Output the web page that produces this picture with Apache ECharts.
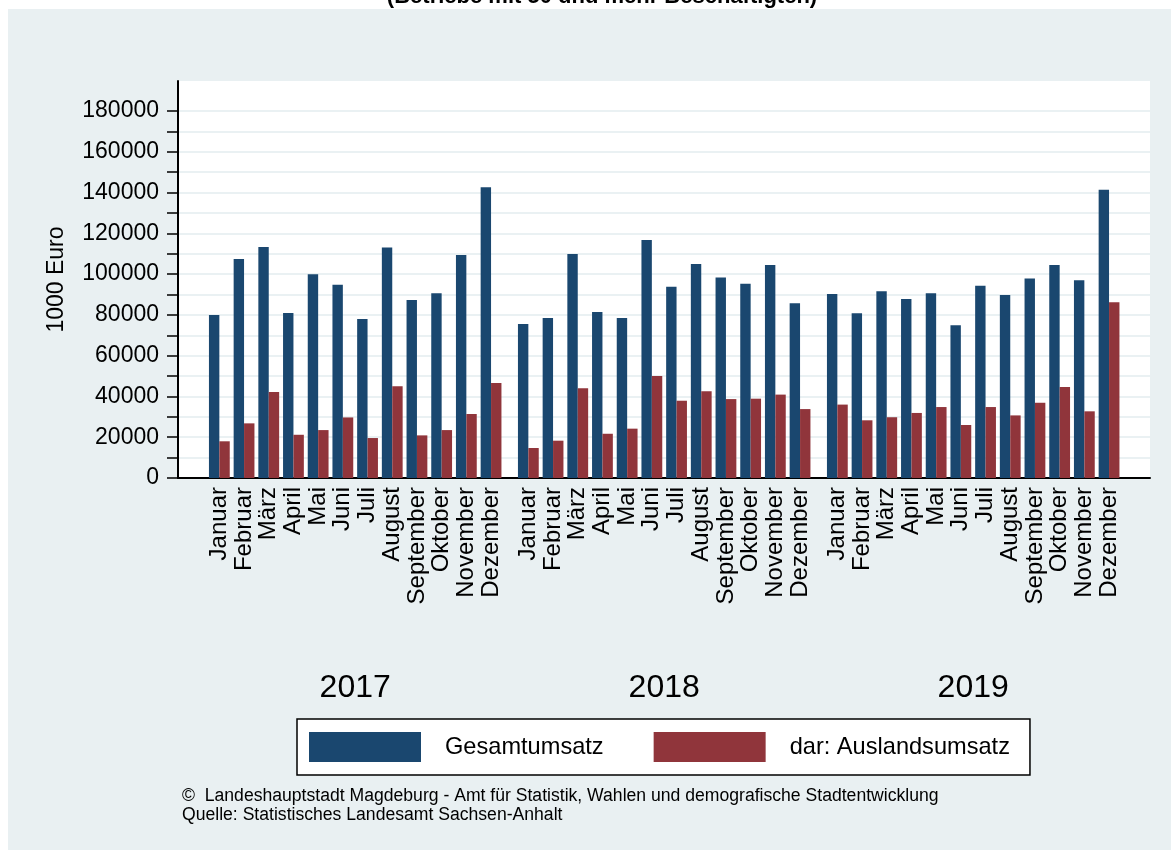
<!DOCTYPE html>
<html lang="de">
<head>
    <meta charset="UTF-8">
    <title>Umsatz Magdeburg</title>
    <script src="https://cdn.jsdelivr.net/npm/echarts@6/dist/echarts.min.js"></script>
    <style>
        body { margin: 0; background: #fff; }
    </style>
</head>
<body>
    <div id="dv" style="width:1171px;height:850px;"></div>
</body>
<script>
   var months = ['Januar', 'Februar', 'März', 'April', 'Mai', 'Juni', 'Juli', 'August', 'September', 'Oktober', 'November', 'Dezember']
   var years = ['2017', '2018', '2019']
   // Gesamtumsatz (1000 Euro), je Jahr
   var gesamt2017 = [80000, 107400, 113300, 80900, 99900, 94800, 78000, 113100, 87300, 90600, 109400, 142600]
   var gesamt2018 = [75500, 78500, 109900, 81400, 78500, 116700, 93800, 105000, 98300, 95300, 104500, 85700]
   var gesamt2019 = [90300, 80800, 91600, 87800, 90600, 74900, 94300, 89800, 97800, 104500, 97000, 141400]
   // dar: Auslandsumsatz
   var ausland2017 = [18000, 26800, 42200, 21200, 23500, 29700, 19600, 45000, 20900, 23500, 31400, 46600]
   var ausland2018 = [14700, 18300, 44000, 21700, 24200, 50000, 37900, 42500, 38700, 38900, 40900, 33800]
   var ausland2019 = [36000, 28300, 29800, 31900, 34800, 26000, 34800, 30700, 36900, 44600, 32700, 86200]
   var yLabels = [0, 20000, 40000, 60000, 80000, 100000, 120000, 140000, 160000, 180000]
   var yTicks = [0, 10000, 20000, 30000, 40000, 50000, 60000, 70000, 80000, 90000,
                 100000, 110000, 120000, 130000, 140000, 150000, 160000, 170000, 180000]

   var gesamt = [gesamt2017, gesamt2018, gesamt2019]
   var ausland = [ausland2017, ausland2018, ausland2019]

   var font = "'Liberation Sans', Arial, Helvetica, sans-serif"
   var navy = '#1a476f'
   var maroon = '#90353b'
   var yMax = 194700
   var plotTop = 81, plotH = 397
   var groupLeft = [207, 516, 825]
   var groupW = 296.4

   var grids = [{ left: 178, top: plotTop, width: 972, height: plotH, backgroundColor: '#fff', show: true, borderWidth: 0 }]
   var xAxes = [{
        gridIndex: 0, type: 'value', min: 0, max: 1,
        axisLine: { show: true, lineStyle: { color: '#000', width: 2 } },
        axisTick: { show: false }, axisLabel: { show: false }, splitLine: { show: false }
   }]
   var yAxes = [{
        gridIndex: 0, type: 'value', min: 0, max: yMax,
        name: '1000 Euro', nameLocation: 'middle', nameGap: 110, nameRotate: 90,
        nameTextStyle: { fontFamily: font, fontSize: 23, color: '#000' },
        axisLine: { show: true, lineStyle: { color: '#000', width: 2 } },
        axisTick: { show: true, inside: false, length: 11, customValues: yTicks, lineStyle: { color: '#000', width: 1.5 } },
        axisLabel: {
            customValues: yLabels, margin: 19, fontFamily: font, fontSize: 23, color: '#000',
            formatter: function (v) { return String(v) }
        },
        splitLine: { show: true, lineStyle: { color: '#eaf1f3', width: 2 } }
   }]
   var series = []

   years.forEach(function (yr, i) {
        var gi = i + 1
        grids.push({ left: groupLeft[i], top: plotTop, width: groupW, height: plotH })
        xAxes.push({
            gridIndex: gi, type: 'category', data: months,
            name: yr, nameLocation: 'middle', nameGap: 194,
            nameTextStyle: { fontFamily: font, fontSize: 32, color: '#000' },
            axisLine: { show: false }, axisTick: { show: false },
            axisLabel: { rotate: 90, interval: 0, margin: 9, fontFamily: font, fontSize: 24, color: '#000' }
        })
        yAxes.push({ gridIndex: gi, type: 'value', min: 0, max: yMax, show: false, splitLine: { show: false } })
        series.push({
            name: 'Gesamtumsatz', type: 'bar', xAxisIndex: gi, yAxisIndex: gi,
            barWidth: 10.4, barGap: '0%', itemStyle: { color: navy }, data: gesamt[i]
        })
        series.push({
            name: 'dar: Auslandsumsatz', type: 'bar', xAxisIndex: gi, yAxisIndex: gi,
            barWidth: 10.4, barGap: '0%', itemStyle: { color: maroon }, data: ausland[i]
        })
   })

   var myChart = echarts.init(document.getElementById('dv'))
   var option = {
        animation: false,
        backgroundColor: '#fff',
        title: {
            text: '(Betriebe mit 50 und mehr Beschäftigten)',
            left: 597, top: -19, textAlign: 'center',
            textStyle: { fontFamily: font, fontSize: 22, fontWeight: 'bold', color: '#000' }
        },
        graphic: [{
            type: 'rect', z: -10, silent: true,
            shape: { x: 8, y: 9, width: 1163, height: 841 },
            style: { fill: '#e9f0f2' }
        }, {
            type: 'text', left: 182, top: 787,
            style: {
                text: '©  Landeshauptstadt Magdeburg - Amt für Statistik, Wahlen und demografische Stadtentwicklung\nQuelle: Statistisches Landesamt Sachsen-Anhalt',
                font: '17.6px ' + font, fill: '#000', lineHeight: 19
            }
        }],
        legend: {
            left: 297, top: 719,
            data: ['Gesamtumsatz', 'dar: Auslandsumsatz'],
            icon: 'rect', itemWidth: 112, itemHeight: 30, itemGap: 50,
            padding: [13, 20, 13, 12],
            backgroundColor: '#fff', borderColor: '#000', borderWidth: 1.5,
            textStyle: { fontFamily: font, fontSize: 23.6, color: '#000', padding: [0, 0, 0, 19] }
        },
        grid: grids,
        xAxis: xAxes,
        yAxis: yAxes,
        series: series
   }
   myChart.setOption(option)
</script>
</html>
